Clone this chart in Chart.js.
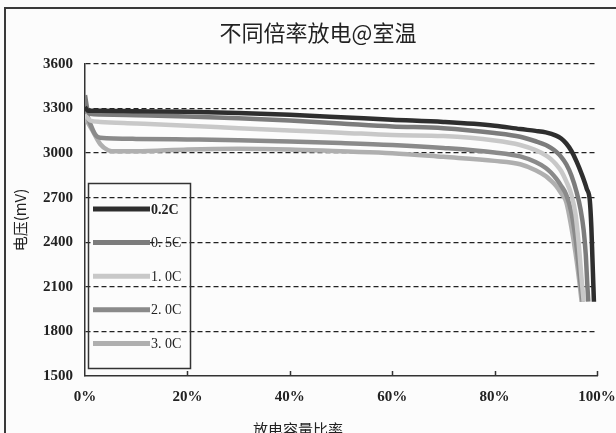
<!DOCTYPE html>
<html>
<head>
<meta charset="utf-8">
<script src="https://cdn.jsdelivr.net/npm/chart.js@4.4.1/dist/chart.umd.min.js"></script>
<style>
    body { margin: 0; background: #fcfcfc; }
    canvas { display: block; }
</style>
</head>
<body>
<canvas id="rateChart" width="616" height="433"></canvas>
<script>
const chartTitle = '不同倍率放电@室温';
const xTitle = '放电容量比率';
const yTitle = '电压(mV)';

// discharge rate labels
const rateLabels = ['0.2C', '0. 5C', '1. 0C', '2. 0C', '3. 0C'];
const lineColors = ['#2e2e2e', '#7c7c7c', '#c8c8c8', '#8a8a8a', '#afafaf'];

// capacity ratio (%) and voltage (mV) for each rate
const pct02 = [0, 0.6, 3, 10, 20, 30, 40, 50, 60, 70, 80, 85, 88, 90, 92, 93, 94, 95, 96, 97, 98, 98.6, 98.9, 99.1, 99.3, 99.4];
const mv02  = [3310, 3285, 3285, 3282, 3278, 3270, 3258, 3242, 3225, 3210, 3185, 3162, 3150, 3140, 3118, 3098, 3065, 3015, 2945, 2860, 2760, 2680, 2500, 2300, 2100, 2000];

const pct05 = [0, 0.5, 1, 3, 10, 20, 30, 40, 50, 60, 70, 80, 85, 88, 90, 91, 92, 93, 94, 95, 96, 96.8, 97.4, 97.8, 98.1, 98.3];
const mv05  = [3390, 3290, 3265, 3260, 3255, 3247, 3235, 3220, 3200, 3180, 3168, 3135, 3110, 3080, 3055, 3035, 3010, 2975, 2925, 2850, 2740, 2620, 2480, 2320, 2120, 2000];

const pct10 = [0, 1, 3, 10, 20, 30, 40, 50, 60, 70, 80, 85, 88, 90, 91, 92, 93, 94, 95, 95.8, 96.4, 97.0, 97.4];
const mv10  = [3260, 3220, 3210, 3200, 3185, 3168, 3152, 3138, 3122, 3115, 3085, 3055, 3020, 2985, 2960, 2925, 2880, 2810, 2720, 2590, 2400, 2150, 2000];

const pct20 = [0, 1, 2, 3, 10, 20, 30, 40, 50, 60, 70, 80, 85, 88, 90, 91, 92, 93, 94, 95, 95.9, 96.6, 97.2];
const mv20  = [3300, 3200, 3125, 3103, 3096, 3092, 3087, 3078, 3068, 3055, 3035, 3005, 2978, 2940, 2900, 2870, 2830, 2780, 2720, 2600, 2400, 2180, 2000];

const pct30 = [0, 1.5, 3, 4.5, 6, 10, 20, 30, 40, 50, 60, 70, 80, 85, 88, 90, 91, 92, 93, 94, 95, 95.8, 96.5, 97.0];
const mv30  = [3240, 3150, 3060, 3020, 3012, 3012, 3025, 3030, 3025, 3012, 3000, 2975, 2948, 2925, 2885, 2845, 2815, 2780, 2730, 2670, 2500, 2330, 2150, 2000];

const xTicks = [0, 20, 40, 60, 80, 100];
const yTicks = [1500, 1800, 2100, 2400, 2700, 3000, 3300, 3600];

function toPoints(xs, ys) {
    return xs.map((x, i) => ({x: x, y: ys[i]}));
}

const seriesData = [
    toPoints(pct02, mv02),
    toPoints(pct05, mv05),
    toPoints(pct10, mv10),
    toPoints(pct20, mv20),
    toPoints(pct30, mv30)
];

const serifFont = '"Liberation Serif", "DejaVu Serif", serif';
const cjkFont = '"Noto Sans CJK SC", sans-serif';

// background, frame, titles, inner x ticks and the boxed legend
const framePlugin = {
    id: 'frameAndLegend',
    beforeDraw(chart) {
        const ctx = chart.ctx;
        ctx.save();
        ctx.fillStyle = '#fcfcfc';
        ctx.fillRect(0, 0, chart.width, chart.height);
        ctx.restore();
    },
    afterDraw(chart) {
        const ctx = chart.ctx;
        const xs = chart.scales.x;
        const ys = chart.scales.y;
        ctx.save();
        ctx.strokeStyle = '#3a3a3a';
        ctx.lineWidth = 2;
        ctx.strokeRect(5, 8, 700, 600);

        ctx.fillStyle = '#222';
        ctx.textAlign = 'center';
        ctx.textBaseline = 'middle';
        ctx.font = '22px ' + cjkFont;
        ctx.fillText(chartTitle, 318, 33);
        ctx.font = '15px ' + cjkFont;
        ctx.fillText(xTitle, 298, 429);

        // small ticks pointing up into the plot
        ctx.strokeStyle = '#333';
        ctx.lineWidth = 1.5;
        xTicks.slice(1).forEach(v => {
            const px = Math.round(xs.getPixelForValue(v)) + 0.5;
            ctx.beginPath();
            ctx.moveTo(px, ys.bottom);
            ctx.lineTo(px, ys.bottom - 5);
            ctx.stroke();
        });

        // legend box
        ctx.strokeStyle = '#333';
        ctx.lineWidth = 1.5;
        ctx.strokeRect(88.5, 183.5, 102, 185);
        ctx.textAlign = 'left';
        chart.data.datasets.forEach((ds, i) => {
            const y = 209 + i * 33.6;
            ctx.strokeStyle = ds.borderColor;
            ctx.lineWidth = 5;
            ctx.beginPath();
            ctx.moveTo(93, y);
            ctx.lineTo(150, y);
            ctx.stroke();
            ctx.fillStyle = '#222';
            ctx.font = (i === 0 ? 'bold ' : '') + '14px ' + serifFont;
            ctx.fillText(ds.label, 151, y + 1);
        });
        ctx.restore();
    }
};

const chartCtx = document.getElementById('rateChart').getContext('2d');
const chart = new Chart(chartCtx, {
    type: 'line',
    data: {
        datasets: seriesData.map((pts, i) => ({
            label: rateLabels[i],
            data: pts,
            borderColor: lineColors[i],
            backgroundColor: lineColors[i],
            borderWidth: 4.5,
            pointRadius: 0,
            cubicInterpolationMode: 'monotone',
            fill: false
        }))
    },
    options: {
        responsive: false,
        animation: false,
        devicePixelRatio: 1,
        layout: { padding: { left: 0, right: 19, top: 64, bottom: 0 } },
        plugins: {
            legend: { display: false },
            tooltip: { enabled: false },
            title: { display: false }
        },
        scales: {
            x: {
                type: 'linear',
                min: 0,
                max: 100,
                afterFit: s => { s.height = 57; s.paddingLeft = 0; s.paddingRight = 0; },
                afterBuildTicks: s => { s.ticks = xTicks.map(v => ({value: v})); },
                grid: { display: false, drawTicks: false },
                border: { display: true, color: '#333', width: 1.5 },
                ticks: {
                    padding: 12,
                    color: '#222',
                    font: { family: '"Liberation Serif"', size: 15, weight: 'bold' },
                    callback: v => v + '%'
                }
            },
            y: {
                min: 1500,
                max: 3600,
                afterFit: s => { s.width = 85; s.paddingTop = 0; s.paddingBottom = 0; },
                afterBuildTicks: s => { s.ticks = yTicks.map(v => ({value: v})); },
                grid: {
                    drawTicks: false,
                    color: c => (c.tick && c.tick.value === 1500) ? 'rgba(0,0,0,0)' : '#222',
                    lineWidth: 1.3
                },
                border: { display: true, color: '#333', width: 1.5, dash: [5, 3] },
                ticks: {
                    padding: 12,
                    color: '#222',
                    font: { family: '"Liberation Serif"', size: 15, weight: 'bold' },
                    callback: v => String(v)
                },
                title: {
                    display: true,
                    text: yTitle,
                    color: '#222',
                    font: { family: '"Noto Sans CJK SC"', size: 15, weight: 'normal' },
                    padding: { top: 11, bottom: 0 }
                }
            }
        }
    },
    plugins: [framePlugin]
});
</script>
</body>
</html>
